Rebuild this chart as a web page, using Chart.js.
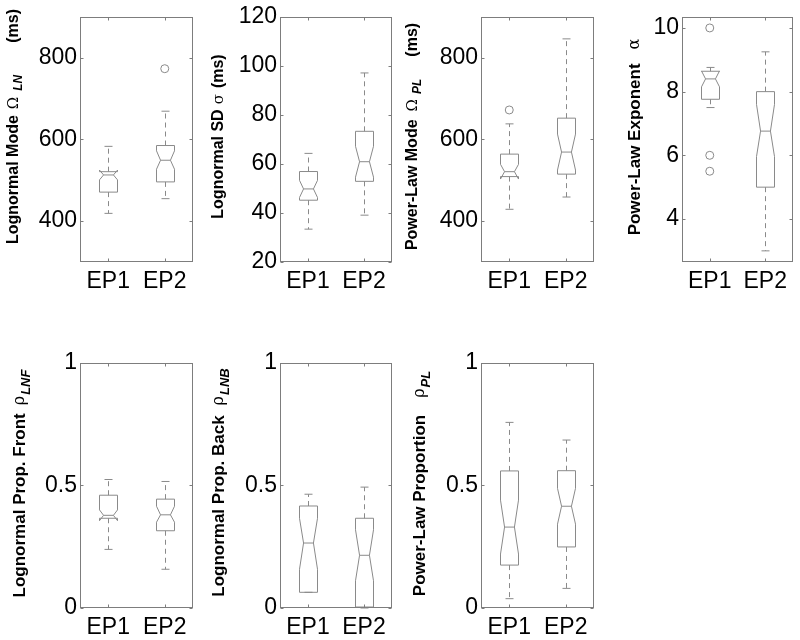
<!DOCTYPE html>
<html>
<head>
<meta charset="utf-8">
<script src="https://cdn.jsdelivr.net/npm/chart.js@4.4.1/dist/chart.umd.min.js"></script>
<style>
  html, body { margin: 0; padding: 0; background: #fff; overflow: hidden; }
  #fig { position: relative; width: 800px; height: 640px; }
  #fig canvas { position: absolute; }
</style>
</head>
<body>
<div id="fig"></div>
<script>
// groups on every x axis
const groups = ['EP1', 'EP2'];

// box stats per group: [whiskerLo, q1, notchLo, median, notchHi, q3, whiskerHi]
const lnMode = [[419, 471, 501, 513, 525, 521, 583], [455, 496, 527, 549, 572, 585, 669]];
const lnModeOut = [[], [773]];
const lnModeTicks = [400, 600, 800];

const lnSd = [[33.4, 45.2, 46.3, 49.8, 53.3, 56.9, 64.3], [39.1, 52.9, 54.6, 60.9, 67.2, 73.3, 97.1]];
const lnSdOut = [[], []];
const lnSdTicks = [20, 40, 60, 80, 100, 120];

const plMode = [[429, 509, 503, 521, 539, 564, 638], [459, 515, 525, 569, 613, 652, 846]];
const plModeOut = [[672], []];
const plModeTicks = [400, 600, 800];

const plExp = [[7.5, 7.76, 8.15, 8.40, 8.65, 8.64, 8.76], [3.0, 5.0, 5.96, 6.76, 7.6, 8.0, 9.25]];
const plExpOut = [[10.0, 6.0, 5.5], []];
const plExpTicks = [4, 6, 8, 10];

const propFront = [[0.239, 0.366, 0.356, 0.378, 0.40, 0.46, 0.524], [0.158, 0.315, 0.35, 0.38, 0.415, 0.444, 0.516]];
const propFrontOut = [[], []];
const propBack = [[0.064, 0.064, 0.158, 0.265, 0.366, 0.416, 0.464], [0.0, 0.004, 0.111, 0.215, 0.319, 0.366, 0.493]];
const propBackOut = [[], []];
const propPl = [[0.038, 0.175, 0.22, 0.33, 0.44, 0.559, 0.757], [0.08, 0.249, 0.342, 0.415, 0.488, 0.56, 0.685]];
const propPlOut = [[], []];
const propTicks = [0, 0.5, 1];

// layout of the 7 panels (axes box left/top/width in page px)
// title parts: [text, style] or [gap in px]
const panels = [
  { stats: lnMode, out: lnModeOut, ticks: lnModeTicks, min: 300, max: 900, left: 80, top: 13, w: 113,
    titleX: 14, titleY: 126.5, titleSize: 16,
    title: [['Lognormal Mode', 'b'], [6], ['\u03A9', 'g'], [6], ['LN', 's'], [32], ['(ms)', 'b']] },
  { stats: lnSd, out: lnSdOut, ticks: lnSdTicks, min: 20, max: 120, left: 280, top: 13, w: 112,
    titleX: 19, titleY: 136.5, titleSize: 16,
    title: [['Lognormal SD', 'b'], [5], ['\u03C3', 'g'], [6], ['(ms)', 'b']] },
  { stats: plMode, out: plModeOut, ticks: plModeTicks, min: 300, max: 900, left: 481, top: 13, w: 113,
    titleX: 12, titleY: 136.5, titleSize: 16,
    title: [['Power-Law Mode', 'b'], [8], ['\u03A9', 'g'], [5], ['PL', 's'], [22], ['(ms)', 'b']] },
  { stats: plExp, out: plExpOut, ticks: plExpTicks, min: 2.65, max: 10.35, left: 682, top: 13, w: 111,
    titleX: 33, titleY: 137, titleSize: 17,
    title: [['Power-Law Exponent', 'b'], [14], ['\u03B1', 'g']] },
  { stats: propFront, out: propFrontOut, ticks: propTicks, min: 0, max: 1, left: 80, top: 359, w: 113,
    titleX: 20, titleY: 483.5, titleSize: 17,
    title: [['Lognormal Prop. Front', 'b'], [8], ['\u03C1', 'g'], [1], ['LNF', 's']] },
  { stats: propBack, out: propBackOut, ticks: propTicks, min: 0, max: 1, left: 280, top: 359, w: 112,
    titleX: 19, titleY: 482.5, titleSize: 17,
    title: [['Lognormal Prop. Back', 'b'], [10], ['\u03C1', 'g'], [1], ['LNB', 's']] },
  { stats: propPl, out: propPlOut, ticks: propTicks, min: 0, max: 1, left: 481, top: 359, w: 113,
    titleX: 19, titleY: 483.5, titleSize: 17,
    title: [['Power-Law Proportion', 'b'], [17], ['\u03C1', 'g'], [1], ['PL', 's']] }
];

const FRAME = '#7d7d7d';
const BOX = '#8a8a8a';
const SANS = '"Liberation Sans", Arial, Helvetica, sans-serif';

function titleFont(style, size) {
  if (style === 'b') return 'bold ' + size + 'px ' + SANS;
  if (style === 'g') return Math.round(size * 0.95) + 'px "DejaVu Serif", "Liberation Serif", serif';
  return 'italic bold ' + Math.round(size * 0.75) + 'px ' + SANS;
}

const boxPlugin = {
  id: 'boxes',
  beforeDatasetsDraw(chart) {
    const p = chart.options.plugins.boxes.panel;
    const xs = chart.scales.x, ys = chart.scales.y;
    const ctx = chart.ctx;
    const half = 9, capHalf = 4, notchK = 0.55;
    ctx.save();
    ctx.strokeStyle = BOX;
    ctx.lineWidth = 1;
    p.stats.forEach((s, i) => {
      const cx = Math.round(xs.getPixelForValue(i)) + 0.5;
      const [lo, q1, nlo, med, nhi, q3, hi] = s.map(v => ys.getPixelForValue(v));
      // whiskers
      ctx.setLineDash([5, 4]);
      ctx.beginPath();
      ctx.moveTo(cx, q3); ctx.lineTo(cx, hi);
      ctx.moveTo(cx, q1); ctx.lineTo(cx, lo);
      ctx.stroke();
      ctx.setLineDash([]);
      ctx.beginPath();
      ctx.moveTo(cx - capHalf, hi); ctx.lineTo(cx + capHalf, hi);
      ctx.moveTo(cx - capHalf, lo); ctx.lineTo(cx + capHalf, lo);
      ctx.stroke();
      // notched box
      ctx.beginPath();
      ctx.moveTo(cx - half, q1);
      ctx.lineTo(cx - half, nlo);
      ctx.lineTo(cx - half * notchK, med);
      ctx.lineTo(cx - half, nhi);
      ctx.lineTo(cx - half, q3);
      ctx.lineTo(cx + half, q3);
      ctx.lineTo(cx + half, nhi);
      ctx.lineTo(cx + half * notchK, med);
      ctx.lineTo(cx + half, nlo);
      ctx.lineTo(cx + half, q1);
      ctx.closePath();
      ctx.moveTo(cx - half * notchK, med);
      ctx.lineTo(cx + half * notchK, med);
      ctx.stroke();
    });
    ctx.restore();
  },
  afterDraw(chart) {
    const p = chart.options.plugins.boxes.panel;
    const xs = chart.scales.x, ys = chart.scales.y;
    const ca = chart.chartArea;
    const ctx = chart.ctx;
    const l = Math.round(ca.left) + 0.5, r = Math.round(ca.right) - 0.5;
    const t = Math.round(ca.top) + 0.5, b = Math.round(ca.bottom) - 0.5;
    ctx.save();
    ctx.strokeStyle = FRAME;
    ctx.lineWidth = 1;
    ctx.strokeRect(l, t, r - l, b - t);
    // inward ticks on all four sides
    ctx.beginPath();
    ys.ticks.forEach(tk => {
      const y = Math.round(ys.getPixelForValue(tk.value)) + 0.5;
      ctx.moveTo(l, y); ctx.lineTo(l + 3, y);
      ctx.moveTo(r, y); ctx.lineTo(r - 3, y);
    });
    groups.forEach((g, i) => {
      const x = Math.round(xs.getPixelForValue(i)) + 0.5;
      ctx.moveTo(x, t); ctx.lineTo(x, t + 3);
      ctx.moveTo(x, b); ctx.lineTo(x, b - 3);
    });
    ctx.stroke();
    // rotated y title with greek symbol and subscript
    ctx.translate(p.titleX, p.titleY - (p.top - 13));
    ctx.rotate(-Math.PI / 2);
    ctx.fillStyle = '#000';
    ctx.textBaseline = 'middle';
    const widthOf = part => {
      if (part.length === 1) return part[0];
      ctx.font = titleFont(part[1], p.titleSize);
      return ctx.measureText(part[0]).width;
    };
    let total = 0;
    p.title.forEach(part => { total += widthOf(part); });
    let x = -total / 2;
    p.title.forEach(part => {
      const w = widthOf(part);
      if (part.length > 1) {
        ctx.fillText(part[0], x, part[1] === 's' ? Math.round(p.titleSize * 0.33) : 0);
      }
      x += w;
    });
    ctx.restore();
  }
};

const fig = document.getElementById('fig');
panels.forEach(p => {
  const cv = document.createElement('canvas');
  const cw = 80 + p.w + 6, ch = 13 + 249 + 32;
  cv.width = cw; cv.height = ch;
  cv.style.left = (p.left - 80) + 'px';
  cv.style.top = (p.top - 13) + 'px';
  cv.style.width = cw + 'px'; cv.style.height = ch + 'px';
  fig.appendChild(cv);

  const points = [];
  p.out.forEach((vals, i) => vals.forEach(v => points.push({ x: groups[i], y: v })));

  new Chart(cv, {
    type: 'scatter',
    data: {
      datasets: [{
        data: points,
        pointStyle: 'circle',
        pointRadius: 4,
        borderWidth: 1,
        borderColor: BOX,
        backgroundColor: 'rgba(0,0,0,0)'
      }]
    },
    options: {
      responsive: false,
      animation: false,
      events: [],
      layout: { padding: { left: 0, right: 6, top: 13, bottom: 0 } },
      plugins: {
        legend: { display: false },
        tooltip: { enabled: false },
        boxes: { panel: p }
      },
      scales: {
        x: {
          type: 'category',
          labels: groups,
          offset: true,
          grid: { display: false, drawTicks: false },
          border: { display: false },
          ticks: { color: '#000', font: { family: SANS, size: 23 }, padding: 6, maxRotation: 0, autoSkip: false },
          afterFit(s) { s.height = 32; }
        },
        y: {
          type: 'linear',
          min: p.min,
          max: p.max,
          grid: { display: false, drawTicks: false },
          border: { display: false },
          ticks: { color: '#000', font: { family: SANS, size: 23 }, padding: 3, callback: v => String(v) },
          afterBuildTicks(s) { s.ticks = p.ticks.map(v => ({ value: v })); },
          afterFit(s) { s.width = 80; }
        }
      }
    },
    plugins: [boxPlugin]
  });
});
</script>
</body>
</html>
